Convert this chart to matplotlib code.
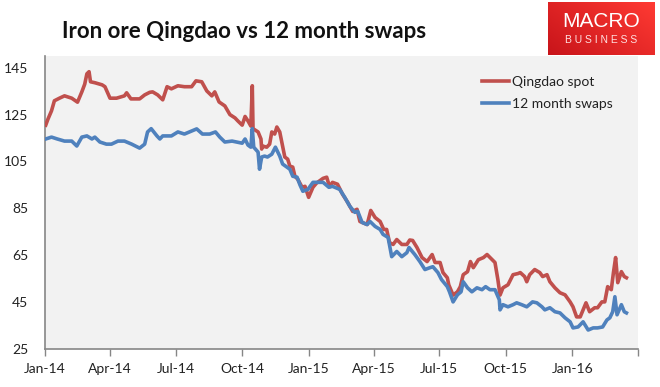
import matplotlib
matplotlib.use("Agg")
import matplotlib.pyplot as plt
import numpy as np
import pandas as pd
from matplotlib.colors import LinearSegmentedColormap

# ---------------- data ----------------
spot_dates = ["2014-01-02","2014-01-05","2014-01-10","2014-01-14","2014-01-21","2014-01-28","2014-02-07","2014-02-15",
    "2014-02-21","2014-02-25","2014-02-28","2014-03-03","2014-03-05","2014-03-11","2014-03-21","2014-03-25",
    "2014-04-01","2014-04-10","2014-04-21","2014-04-24","2014-04-30","2014-05-12","2014-05-19","2014-05-26",
    "2014-05-30","2014-06-06","2014-06-13","2014-06-19","2014-06-25","2014-07-04","2014-07-13","2014-07-23",
    "2014-07-29","2014-08-06","2014-08-13","2014-08-20","2014-08-24","2014-08-30","2014-09-07","2014-09-14",
    "2014-09-21","2014-09-25","2014-10-01","2014-10-05","2014-10-09","2014-10-13","2014-10-15","2014-10-16",
    "2014-10-23","2014-10-27","2014-10-28","2014-10-29","2014-11-04","2014-11-08","2014-11-11","2014-11-15",
    "2014-11-18","2014-11-22","2014-11-26","2014-11-29","2014-12-03","2014-12-06","2014-12-10","2014-12-13",
    "2014-12-17","2014-12-23","2014-12-27","2015-01-01","2015-01-07","2015-01-12","2015-01-21","2015-01-26",
    "2015-01-30","2015-02-03","2015-02-10","2015-02-17","2015-02-24","2015-03-03","2015-03-09","2015-03-13",
    "2015-03-23","2015-03-28","2015-04-03","2015-04-10","2015-04-15","2015-04-19","2015-04-23","2015-04-28",
    "2015-05-03","2015-05-10","2015-05-17","2015-05-21","2015-05-25","2015-05-31","2015-06-07","2015-06-14",
    "2015-06-21","2015-06-25","2015-07-02","2015-07-06","2015-07-12","2015-07-14","2015-07-20","2015-07-26",
    "2015-07-30","2015-08-03","2015-08-09","2015-08-13","2015-08-17","2015-08-24","2015-08-31","2015-09-05",
    "2015-09-12","2015-09-16","2015-09-20","2015-09-23","2015-09-27","2015-10-04","2015-10-11","2015-10-18",
    "2015-10-21","2015-10-27","2015-10-30","2015-11-03","2015-11-10","2015-11-17","2015-11-21","2015-11-27",
    "2015-12-01","2015-12-08","2015-12-15","2015-12-22","2015-12-29","2016-01-02","2016-01-07","2016-01-12",
    "2016-01-16","2016-01-20","2016-01-25","2016-02-01","2016-02-05","2016-02-11","2016-02-15","2016-02-19",
    "2016-02-24","2016-02-27","2016-03-01","2016-03-04","2016-03-09","2016-03-13","2016-03-16"]
spot_values = [120.5,123,126.6,130.9,132,133,132,130.3,
    134.7,138,142.4,143.3,139,138.6,137.7,136.9,
    132,132,133,134.3,131.7,131.7,133.4,134.5,
    134.7,133.4,131.3,136.9,136,137.3,136.9,136.9,
    139.4,139,135.1,133,134.7,130.4,128.7,125,
    123.6,122.3,120.5,124.2,122.3,120.1,137.3,119,
    117.6,114.6,110.3,111.6,111.1,112.4,117.6,116.7,
    119.7,117.6,111.6,106.9,106,103,102.6,98.7,
    97.4,94,94.4,89.7,94,95.8,97.8,98.3,
    94.2,96.1,95.3,91,87.6,83.7,84.6,79.4,
    78.1,84.1,81.1,79.4,76,76,70.4,69.6,
    71.7,69.6,69.6,71.5,71.3,68.3,64,62.3,
    65.3,61.9,61.9,57.6,55.4,52.4,48,49.4,
    51.6,56.7,58,62.3,59.7,63.1,64,65.3,
    63.1,61.9,54.6,48,51.1,52.4,56.7,57.2,
    57.6,55.9,53.7,56.7,58.9,57.6,55.9,56.7,
    53.7,51.1,49,48.1,45.1,43,38.7,38.7,
    41.7,44.7,40.9,42.6,42.6,45.1,45.1,51.6,
    50.3,57.6,64,53.3,58,55.9,55.4]

swap_dates = ["2014-01-02","2014-01-10","2014-01-18","2014-01-28","2014-02-07","2014-02-14","2014-02-21","2014-02-28",
    "2014-03-07","2014-03-11","2014-03-18","2014-03-27","2014-04-03","2014-04-12","2014-04-21","2014-05-01",
    "2014-05-12","2014-05-19","2014-05-23","2014-05-28","2014-06-05","2014-06-09","2014-06-13","2014-06-25",
    "2014-07-04","2014-07-13","2014-07-23","2014-07-30","2014-08-07","2014-08-17","2014-08-25","2014-08-31",
    "2014-09-07","2014-09-17","2014-09-23","2014-10-01","2014-10-05","2014-10-09","2014-10-13","2014-10-15",
    "2014-10-17","2014-10-23","2014-10-25","2014-10-28","2014-11-01","2014-11-05","2014-11-11","2014-11-16",
    "2014-11-22","2014-11-26","2014-12-02","2014-12-06","2014-12-10","2014-12-16","2014-12-20","2014-12-24",
    "2014-12-31","2015-01-07","2015-01-14","2015-01-21","2015-01-29","2015-02-03","2015-02-13","2015-02-20",
    "2015-02-27","2015-03-06","2015-03-10","2015-03-16","2015-03-23","2015-03-27","2015-04-03","2015-04-10",
    "2015-04-14","2015-04-21","2015-04-26","2015-05-03","2015-05-10","2015-05-17","2015-05-20","2015-05-28",
    "2015-06-04","2015-06-11","2015-06-18","2015-06-22","2015-06-29","2015-07-04","2015-07-12","2015-07-15",
    "2015-07-20","2015-07-26","2015-07-31","2015-08-03","2015-08-09","2015-08-15","2015-08-22","2015-08-29",
    "2015-09-03","2015-09-09","2015-09-16","2015-09-22","2015-09-23","2015-09-27","2015-10-04","2015-10-11",
    "2015-10-16","2015-10-23","2015-10-30","2015-11-07","2015-11-13","2015-11-20","2015-11-24","2015-12-01",
    "2015-12-08","2015-12-15","2015-12-22","2015-12-29","2016-01-02","2016-01-09","2016-01-16","2016-01-23",
    "2016-01-30","2016-02-05","2016-02-12","2016-02-18","2016-02-22","2016-02-26","2016-02-29","2016-03-03",
    "2016-03-09","2016-03-13","2016-03-16"]
swap_values = [114.6,115.4,114.6,113.7,113.7,111.6,115.4,115.9,
    114.6,115.4,113.3,112.4,112.4,113.7,113.7,112.4,
    110.7,112.4,117.6,119,115.9,114.6,115.9,115.9,
    117.6,116.7,118,118.9,116.7,116.7,117.6,115.4,
    113.3,113.7,113.3,112.8,114.6,112,111.1,119,
    111.1,109,101.7,106.9,107.3,106.9,108.1,111.1,
    107.3,103.9,102.6,101.7,98.7,98.3,95,92.3,
    93.1,96.1,96.1,96.1,94,94.4,93.1,89.7,
    85.9,83.3,83.7,79,78.1,79.4,77.3,76,
    73.9,72.6,64.4,66.6,64.4,66.1,68.3,65.3,
    62.3,58.9,59.7,60.1,57.6,54.6,51.6,49.4,
    45.1,48.1,49.4,53.7,51.1,49.4,51.1,50.3,
    51.6,50.3,50.3,46,41.7,43.9,43,43.9,
    44.7,43.9,43,45.1,44.7,43,41.7,42.6,
    40.9,40.4,38.3,36.6,34,34.4,36.6,33.1,
    34,34,34.4,37.4,38.3,40.9,47.3,39.6,
    43.9,40.9,40.4]

series_names = ["Qingdao spot", "12 month swaps"]
title_text = "Iron ore Qingdao vs 12 month swaps"
y_ticks = [25, 45, 65, 85, 105, 125, 145]
x_tick_dates = ["2014-01-01","2014-04-01","2014-07-01","2014-10-01","2015-01-01",
                "2015-04-01","2015-07-01","2015-10-01","2016-01-01","2016-04-01"]
x_tick_labels = ["Jan-14","Apr-14","Jul-14","Oct-14","Jan-15","Apr-15","Jul-15","Oct-15","Jan-16",""]

# ---------------- plot ----------------
plt.rcParams['font.family'] = ['Lato', 'DejaVu Sans']
W, H = 660, 387
fig = plt.figure(figsize=(W/100, H/100), dpi=100)
fig.patch.set_facecolor("white")

ax = fig.add_axes([45/W, 1-349/H, (638-45)/W, (349-56)/H])
ax.set_facecolor("#F2F2F2")

red = "#C0504D"
blue = "#4F81BD"
ax.plot(pd.to_datetime(spot_dates), spot_values, color=red, lw=2.6, label=series_names[0],
        solid_joinstyle="round", zorder=3)
ax.plot(pd.to_datetime(swap_dates), swap_values, color=blue, lw=2.6, label=series_names[1],
        solid_joinstyle="round", zorder=3)

ax.set_ylim(25, 150)
ax.set_xlim(pd.Timestamp("2014-01-01"), pd.Timestamp("2016-04-01"))
ax.set_yticks(y_ticks)
ax.set_yticklabels([str(v) for v in y_ticks], fontsize=10, color="#222222")
ax.set_xticks(pd.to_datetime(x_tick_dates))
ax.set_xticklabels(x_tick_labels, fontsize=10, color="#222222")
ax.tick_params(axis="y", length=0, pad=12)
ax.tick_params(axis="x", length=5, color="#868686", width=1, pad=5)
for s in ["top", "right"]:
    ax.spines[s].set_visible(False)
for s in ["left", "bottom"]:
    ax.spines[s].set_color("#868686")
    ax.spines[s].set_linewidth(1.2)

leg = ax.legend(loc="upper left", bbox_to_anchor=((476-45)/(638-45), 1-(70-56)/(349-56)),
                frameon=False, fontsize=10, handlelength=2.0, handletextpad=0.2,
                labelspacing=0.75, borderaxespad=0)
for t in leg.get_texts():
    t.set_color("#222222")

fig.text(62/W, 1-31/H, title_text, fontsize=16, fontweight="bold", color="#111111",
         va="center", ha="left", family=["Lato", "DejaVu Sans"])

# logo
lax = fig.add_axes([548/W, 1-55/H, (655-548)/W, 53/H])
grad = np.linspace(0, 1, 100)[None, :] * 0.6 + np.linspace(1, 0, 60)[:, None] * 0.4
cmap = LinearSegmentedColormap.from_list("lg", ["#C8141A", "#FF3A33"])
lax.imshow(grad, cmap=cmap, aspect="auto", extent=[0, 1, 0, 1])
lax.set_xlim(0, 1); lax.set_ylim(0, 1)
lax.axis("off")
lax.text(0.5, 0.64, "MACRO", color="white", fontsize=15, ha="center", va="center",
         family=["Liberation Sans Narrow", "Liberation Sans", "DejaVu Sans"])
lax.text(0.5, 0.28, "B U S I N E S S", color="#FFE0E0", fontsize=7.5, ha="center", va="center",
         family=["Liberation Sans", "DejaVu Sans"])

fig.savefig("out.png", dpi=100)
